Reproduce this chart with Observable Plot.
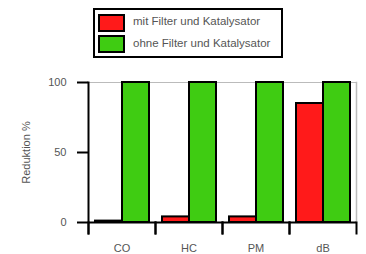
<!DOCTYPE html>
<html><head><meta charset="utf-8">
<script src="https://cdn.jsdelivr.net/npm/d3@7"></script>
<script src="https://cdn.jsdelivr.net/npm/@observablehq/plot@0.6"></script>
<style>
body{margin:0;background:#fff;font-family:"Liberation Sans",Arial,sans-serif;}
#wrap{position:relative;width:366px;height:254px;background:#fff;}
#legend{position:relative;height:64px;}
.box{position:absolute;left:93px;top:8px;width:186px;height:46px;border:2px solid #000;box-sizing:content-box;}
.sw{position:absolute;left:3px;width:23px;height:14px;border:2px solid #000;}
.lt{position:absolute;left:38px;font-size:11.5px;color:#555;line-height:12px;white-space:nowrap;}
#chart svg{display:block;}
</style></head>
<body>
<div id="wrap">
  <div id="legend"></div>
  <div id="chart"></div>
</div>
<script>
const categories = ["CO", "HC", "PM", "dB"];
const series = ["mit Filter und Katalysator", "ohne Filter und Katalysator"];
const mitValues = [1, 4, 4, 85];
const ohneValues = [100, 100, 100, 100];
const yTicks = [0, 50, 100];
const colors = ["#ff1a1a", "#3fcc12"];
const yLabel = "Reduktion %";

const data = categories.flatMap((c, i) => [
  {cat: c, s: series[0], v: mitValues[i]},
  {cat: c, s: series[1], v: ohneValues[i]}
]);

// legend
const box = document.createElement("div");
box.className = "box";
series.forEach((s, i) => {
  const sw = document.createElement("div");
  sw.className = "sw";
  sw.style.top = (4 + i * 21) + "px";
  sw.style.background = colors[i];
  box.appendChild(sw);
  const t = document.createElement("div");
  t.className = "lt";
  t.style.top = (5 + i * 22) + "px";
  t.textContent = s;
  box.appendChild(t);
});
document.getElementById("legend").appendChild(box);

const chart = Plot.plot({
  width: 366, height: 190,
  marginTop: 18, marginBottom: 32, marginLeft: 88, marginRight: 10,
  style: {fontFamily: "'Liberation Sans', Arial, sans-serif", fontSize: "11px", color: "#555", background: "#fff"},
  fx: {domain: categories, padding: 0, label: null},
  x: {domain: series, paddingInner: 0, paddingOuter: 0.22, axis: null},
  y: {domain: [0, 100], label: null},
  color: {domain: series, range: colors},
  marks: [
    Plot.ruleY([100], {stroke: "#bbb", strokeWidth: 1}),
    Plot.frame({anchor: "right", facet: "super", stroke: "#bbb", strokeWidth: 1.5}),
    Plot.barY(data, {fx: "cat", x: "s", y: "v", fill: "s", stroke: "#000", strokeWidth: 2}),
    Plot.axisY({ticks: yTicks, tickSize: 11, tickPadding: 11, stroke: "#000", strokeWidth: 2,
      label: yLabel, labelAnchor: "center", labelOffset: 66, labelArrow: "none"}),
    Plot.axisFx({anchor: "bottom", tickSize: 0, tickPadding: 22, label: null}),
    Plot.ruleY([0], {stroke: "#000", strokeWidth: 2}),
    Plot.frame({anchor: "left", facet: "super", insetBottom: -11, stroke: "#000", strokeWidth: 2}),
    Plot.frame({anchor: "left", insetTop: 140, insetBottom: -11, stroke: "#000", strokeWidth: 2}),
    Plot.frame({anchor: "right", insetTop: 140, insetBottom: -11, stroke: "#000", strokeWidth: 2})
  ]
});
document.getElementById("chart").appendChild(chart);
</script>
</body></html>
